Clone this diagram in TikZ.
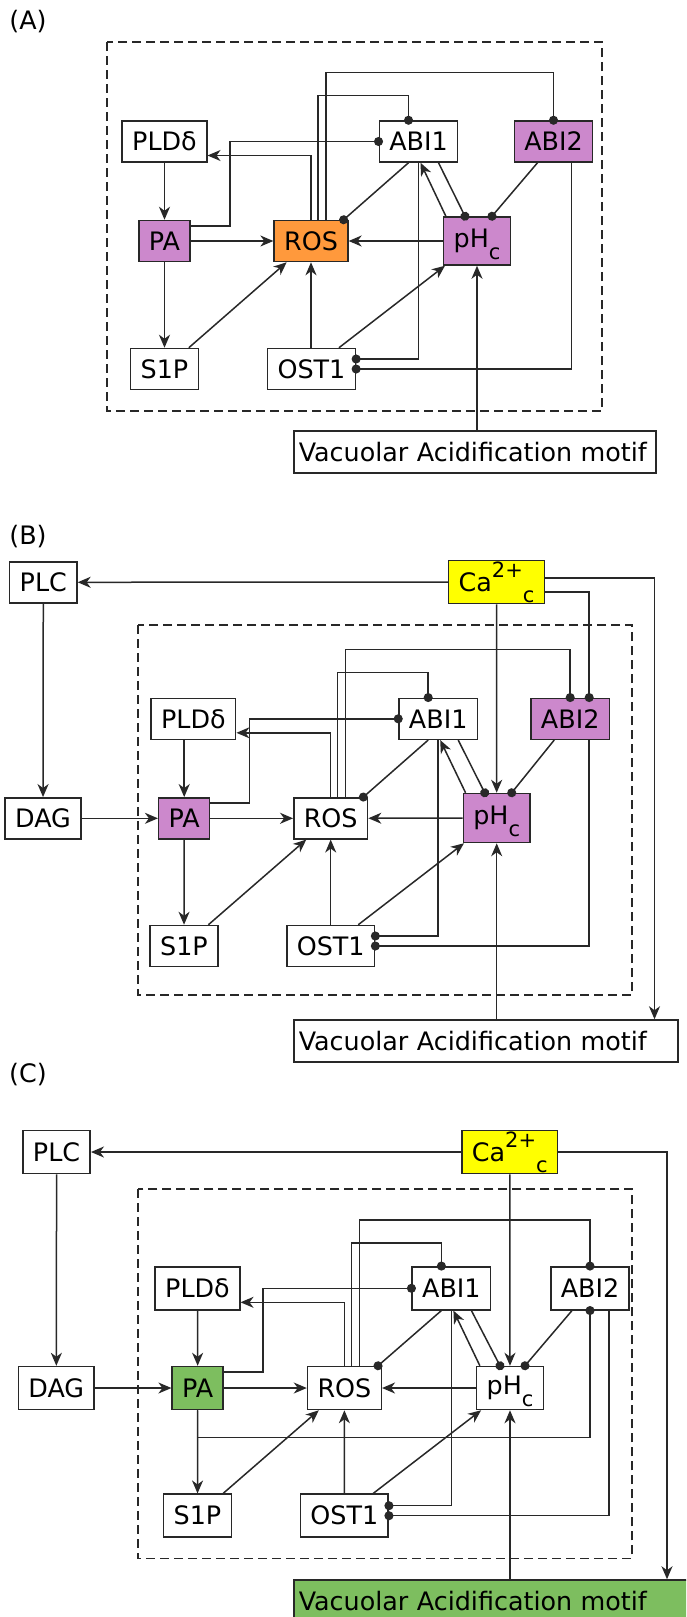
\documentclass[tikz,border=0pt]{standalone}
\usepackage{fontspec}
\setmainfont{DejaVu Sans}
\usetikzlibrary{arrows.meta}
\definecolor{LineGrey}{RGB}{40,40,40}
\definecolor{KinasePurple}{RGB}{204,136,204}
\definecolor{RosOrange}{RGB}{255,153,60}
\definecolor{CaYellow}{RGB}{255,255,0}
\definecolor{MotifGreen}{RGB}{125,190,95}
\newcommand{\phcyt}{pH\smash{\raisebox{-0.45em}{\fontsize{21}{21}\selectfont c}}}
\newcommand{\cacyt}{Ca\smash{\raisebox{0.55em}{\fontsize{21}{21}\selectfont 2+}}\smash{\raisebox{-0.45em}{\fontsize{21}{21}\selectfont c}}}
\tikzset{
  arr/.style={-{Stealth[length=13pt,width=11pt,inset=4pt]},line width=1.5pt,draw=LineGrey},
  inhib/.style={-{Circle[length=9pt]},shorten >=-4.5pt,line width=1.5pt,draw=LineGrey},
  box/.style={draw=LineGrey,fill=white,line width=1.5pt,minimum height=41pt,
    inner xsep=10pt,inner ysep=0pt,font=\fontsize{25.4}{30}\selectfont},
  purplebox/.style={box,fill=KinasePurple},
  orangebox/.style={box,fill=RosOrange},
  yellowbox/.style={box,fill=CaYellow,minimum height=43pt},
  greenbox/.style={box,fill=MotifGreen},
  motif/.style={box,anchor=west,inner xsep=5pt,align=left,minimum height=42pt},
  coreframe/.style={draw=LineGrey,dash pattern=on 9pt off 5pt,line width=1.5pt},
  panellabel/.style={font=\fontsize{25.4}{30}\selectfont}
}

\begin{document}
\begin{tikzpicture}[x=1pt,y=-1pt]
  \useasboundingbox (0,0) rectangle (686,1617);
  \fill[white] (0,0) rectangle (686,1617);
  \clip (0,0) rectangle (686,1617);

  \node[panellabel] (a-lbl) at (28,22) {(A)};
  \draw[coreframe] (107,42) rectangle (602,411);
  \node[box] (a-pld) at (164.5,141.5) {PLDδ};
  \node[box] (a-abi1) at (418.5,141.5) {ABI1};
  \node[purplebox] (a-abi2) at (553.5,141.5) {ABI2};
  \node[purplebox] (a-pa) at (164.5,241) {PA};
  \node[orangebox] (a-ros) at (311,241) {ROS};
  \node[purplebox,minimum height=48pt] (a-ph) at (477,241) {\phcyt};
  \node[box] (a-s1p) at (164.5,369) {S1P};
  \node[box] (a-ost) at (311.5,369) {OST1};
  \node[motif,text width=352pt] (a-vac) at (293,452) {Vacuolar Acidification motif};
  \draw[arr] (a-pld) -- (a-pa);
  \draw[arr] (a-pa) -- (a-ros);
  \draw[arr] (a-pa) -- (a-s1p);
  \draw[arr] (a-s1p) -- (a-ros);
  \draw[arr] (a-ost.north -| a-ros) -- (a-ros);
  \draw[arr] (a-ost) -- (a-ph);
  \draw[arr] (a-ph) -- (a-ros);
  \draw[arr] (a-ph.south |- a-vac.north) -- (a-ph);
  \draw[arr] (a-ros.north) |- ([yshift=-14pt]a-pld.east);
  \draw[inhib] ([yshift=-6pt]a-pa.north east) -- ++(39,0) |- (a-abi1);
  \draw[inhib] ([xshift=7pt]a-ros.north) |- ([xshift=-10pt,yshift=25pt]a-abi1.north) -- ([xshift=-10pt]a-abi1.north);
  \draw[inhib] ([xshift=15pt]a-ros.north) |- ([yshift=48pt]a-abi2.north) -- (a-abi2.north);
  \draw[inhib] ([xshift=-10pt]a-abi1.south) -- ([xshift=-5pt]a-ros.north east);
  \draw[arr] ([xshift=3pt]a-ph.north west) -- ([xshift=2pt]a-abi1.south);
  \draw[inhib] ([xshift=20pt]a-abi1.south) -- ([xshift=-12pt]a-ph.north);
  \draw[inhib] ([xshift=-16pt]a-abi2.south) -- ([xshift=15pt]a-ph.north);
  \draw[inhib] (a-abi1.south) |- ([yshift=10pt]a-ost.east);
  \draw[inhib] ([xshift=18pt]a-abi2.south) |- (a-ost.east);

  \node[panellabel] (b-lbl) at (28,537) {(B)};
  \draw[coreframe] (138,625) rectangle (632,995);
  \node[box] (b-plc) at (43.3,582.3) {PLC};
  \node[yellowbox] (b-ca) at (496.5,582) {\cacyt};
  \node[box] (b-dag) at (43,818.3) {DAG};
  \node[box] (b-pld) at (193.4,718.8) {PLDδ};
  \node[box] (b-abi1) at (438.2,718.8) {ABI1};
  \node[purplebox] (b-abi2) at (570.2,718.8) {ABI2};
  \node[purplebox] (b-pa) at (184.2,818.3) {PA};
  \node[box] (b-ros) at (330.7,818.3) {ROS};
  \node[purplebox,minimum height=49pt] (b-ph) at (496.7,818) {\phcyt};
  \node[box] (b-s1p) at (184,946) {S1P};
  \node[box] (b-ost) at (330.7,946) {OST1};
  \node[motif,text width=374pt] (b-vac) at (293,1041) {Vacuolar Acidification motif};
  \draw[arr] (b-ca) -- (b-plc);
  \draw[arr] (b-plc) -- (b-dag);
  \draw[arr] (b-dag) -- (b-pa);
  \draw[arr] (b-ca) -- (b-ph);
  \draw[arr] ([yshift=4pt]b-ca.east) -| ([xshift=-24pt]b-vac.north east);
  \draw[inhib] ([yshift=-10pt]b-ca.east) -| ([xshift=19pt]b-abi2.north);
  \draw[arr] (b-pa.north |- b-pld.south) -- (b-pa);
  \draw[arr] (b-pa) -- (b-ros);
  \draw[arr] (b-pa) -- (b-s1p);
  \draw[arr] (b-s1p) -- (b-ros);
  \draw[arr] (b-ost) -- (b-ros);
  \draw[arr] (b-ost) -- (b-ph);
  \draw[arr] (b-ph) -- (b-ros);
  \draw[arr] (b-ph.south |- b-vac.north) -- (b-ph);
  \draw[arr] (b-ros.north) |- ([yshift=-14pt]b-pld.east);
  \draw[inhib] ([yshift=-6pt]b-pa.north east) -- ++(39,0) |- (b-abi1);
  \draw[inhib] ([xshift=7pt]b-ros.north) |- ([xshift=-10pt,yshift=25pt]b-abi1.north) -- ([xshift=-10pt]b-abi1.north);
  \draw[inhib] ([xshift=15pt]b-ros.north) |- ([yshift=48pt]b-abi2.north) -- (b-abi2.north);
  \draw[inhib] ([xshift=-10pt]b-abi1.south) -- ([xshift=-5pt]b-ros.north east);
  \draw[arr] ([xshift=3pt]b-ph.north west) -- ([xshift=2pt]b-abi1.south);
  \draw[inhib] ([xshift=20pt]b-abi1.south) -- ([xshift=-12pt]b-ph.north);
  \draw[inhib] ([xshift=-16pt]b-abi2.south) -- ([xshift=15pt]b-ph.north);
  \draw[inhib] (b-abi1.south) |- ([yshift=10pt]b-ost.east);
  \draw[inhib] ([xshift=19pt]b-abi2.south) |- (b-ost.east);

  \begin{scope}[box/.append style={minimum height=43pt}]
  \node[panellabel] (c-lbl) at (28,1075) {(C)};
  \draw[coreframe] (138,1189) rectangle (632,1558.7);
  \node[box] (c-plc) at (56.6,1152) {PLC};
  \node[yellowbox] (c-ca) at (509.8,1152) {\cacyt};
  \node[box] (c-dag) at (56.3,1388) {DAG};
  \node[box] (c-pld) at (197.5,1288.3) {PLDδ};
  \node[box] (c-abi1) at (451.4,1288.3) {ABI1};
  \node[box] (c-abi2) at (590,1288.3) {ABI2};
  \node[greenbox] (c-pa) at (197.7,1388) {PA};
  \node[box] (c-ros) at (344.4,1388) {ROS};
  \node[box] (c-ph) at (510,1388) {\phcyt};
  \node[box] (c-s1p) at (197.5,1515.7) {S1P};
  \node[box] (c-ost) at (344.3,1515.7) {OST1};
  \node[motif,fill=MotifGreen,text width=400pt] (c-vac) at (293,1601) {Vacuolar Acidification motif};
  \draw[arr] (c-ca) -- (c-plc);
  \draw[arr] (c-plc) -- (c-dag);
  \draw[arr] (c-dag) -- (c-pa);
  \draw[arr] (c-ca) -- (c-ph);
  \draw[arr] (c-ca.east) -| ([xshift=374pt]c-vac.north west);
  \draw[inhib] (c-pa.south) -- ++(0,27) -| (c-abi2.south);
  \draw[arr] (c-pld) -- (c-pa);
  \draw[arr] (c-pa) -- (c-ros);
  \draw[arr] (c-pa) -- (c-s1p);
  \draw[arr] (c-s1p) -- (c-ros);
  \draw[arr] (c-ost) -- (c-ros);
  \draw[arr] (c-ost) -- (c-ph);
  \draw[arr] (c-ph) -- (c-ros);
  \draw[arr] (c-ph.south |- c-vac.north) -- (c-ph);
  \draw[arr] (c-ros.north) |- ([yshift=-14pt]c-pld.east);
  \draw[inhib] ([yshift=-6pt]c-pa.north east) -- ++(39,0) |- (c-abi1);
  \draw[inhib] ([xshift=7pt]c-ros.north) |- ([xshift=-10pt,yshift=23pt]c-abi1.north) -- ([xshift=-10pt]c-abi1.north);
  \draw[inhib] ([xshift=15pt]c-ros.north) |- ([yshift=46pt]c-abi2.north) -- (c-abi2.north);
  \draw[inhib] ([xshift=-10pt]c-abi1.south) -- ([xshift=-4pt]c-ros.north east);
  \draw[arr] ([xshift=4pt]c-ph.north west) -- ([xshift=2pt]c-abi1.south);
  \draw[inhib] ([xshift=20pt]c-abi1.south) -- ([xshift=-10pt]c-ph.north);
  \draw[inhib] ([xshift=-18pt]c-abi2.south) -- ([xshift=15pt]c-ph.north);
  \draw[inhib] (c-abi1.south) |- ([yshift=10pt]c-ost.east);
  \draw[inhib] ([xshift=19pt]c-abi2.south) |- (c-ost.east);
  \end{scope}
\end{tikzpicture}
\end{document}
